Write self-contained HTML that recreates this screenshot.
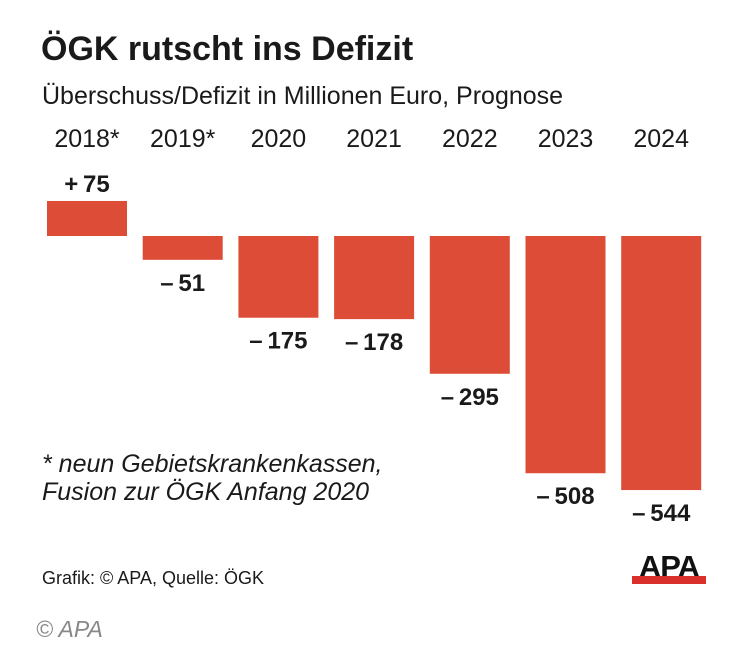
<!DOCTYPE html>
<html><head><meta charset="utf-8"><style>
body{margin:0;background:#fff;font-family:"Liberation Sans",sans-serif;}
#c{position:relative;width:750px;height:650px;overflow:hidden;background:#fff}
text{font-family:"Liberation Sans",sans-serif;fill:#1a1a1a}
</style></head><body>
<div id="c">
<svg id="s" width="750" height="650" style="position:absolute;left:0;top:0">
<text x="41" y="60" font-size="34" font-weight="bold">ÖGK rutscht ins Defizit</text>
<text x="42" y="104" font-size="25">Überschuss/Defizit in Millionen Euro, Prognose</text>
<text x="42" y="472" font-size="25" font-style="italic">* neun Gebietskrankenkassen,</text>
<text x="42" y="500" font-size="25" font-style="italic">Fusion zur ÖGK Anfang 2020</text>
<text x="42" y="584" font-size="18">Grafik: © APA, Quelle: ÖGK</text>
<text x="36" y="637" font-size="23" font-style="italic" style="fill:#888">© APA</text>
<g>
<text x="669" y="577" font-size="31" font-weight="bold" text-anchor="middle" letter-spacing="-1" style="fill:#111">APA</text>
<rect x="632" y="576" width="74" height="8" fill="#d9302b"/>
</g>
</svg>
</div>
<script>
const categories=["2018*","2019*","2020","2021","2022","2023","2024"];
const values=[75,-51,-175,-178,-295,-508,-544];
const valueLabels=["+\u200975","\u2013\u200951","\u2013\u2009175","\u2013\u2009178","\u2013\u2009295","\u2013\u2009508","\u2013\u2009544"];
const NS="http://www.w3.org/2000/svg";
const s=document.getElementById('s');
const zeroY=236, k=0.467, x0=47, pitch=95.7, bw=80;
const y=v=>zeroY-v*k;
const xb=i=>x0+i*pitch;
categories.forEach((c,i)=>{
  const v=values[i];
  const r=document.createElementNS(NS,'rect');
  
  
  r.setAttribute('x',xb(i));r.setAttribute('width',bw);
  r.setAttribute('y',Math.min(y(v),zeroY));r.setAttribute('height',Math.abs(v)*k);
  r.setAttribute('fill','#dd4c36');s.appendChild(r);
  const t=document.createElementNS(NS,'text');
  
  
  t.setAttribute('x',xb(i)+bw/2);t.setAttribute('y',147);
  t.setAttribute('text-anchor','middle');t.setAttribute('font-size','25');
  t.textContent=c;s.appendChild(t);
  const l=document.createElementNS(NS,'text');
  
  
  l.setAttribute('x',xb(i)+bw/2);
  l.setAttribute('y',v>=0?y(v)-9:y(v)+31);
  l.setAttribute('text-anchor','middle');l.setAttribute('font-size','24');l.setAttribute('font-weight','bold');
  l.textContent=valueLabels[i];s.appendChild(l);
});
</script>
</body></html>
